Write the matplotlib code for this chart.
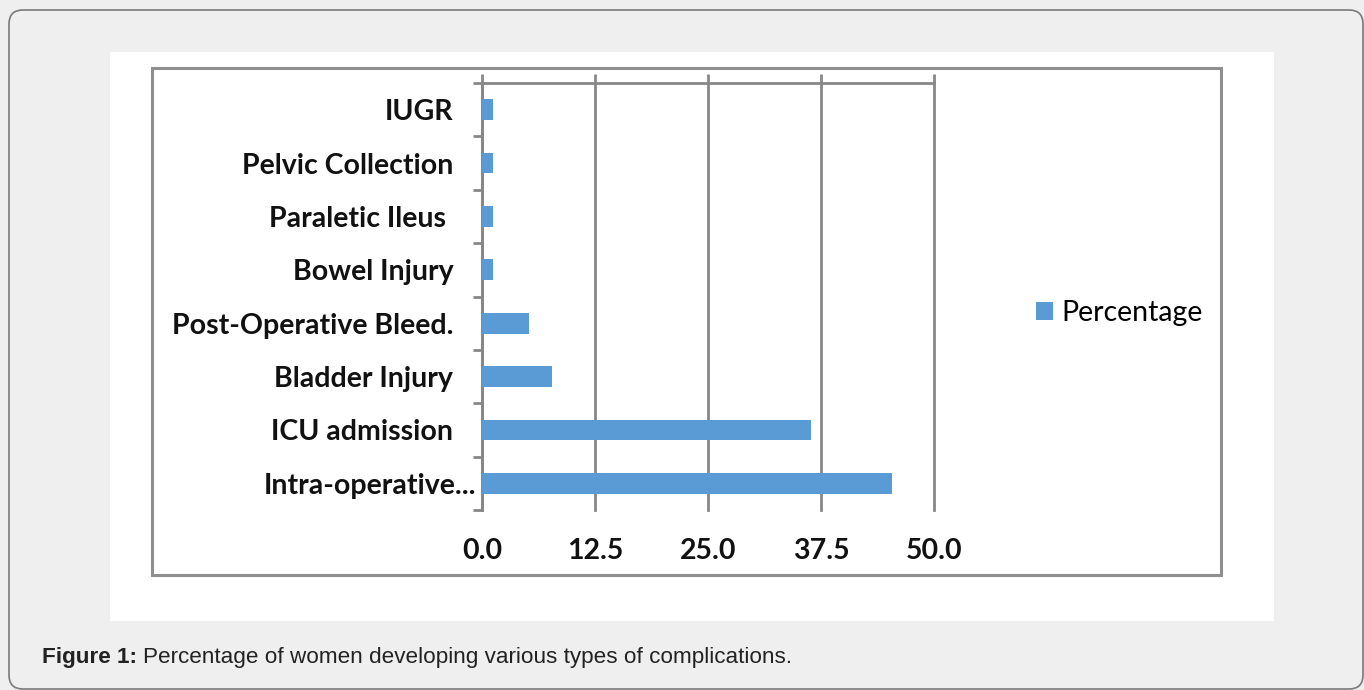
import matplotlib.pyplot as plt
from matplotlib.patches import FancyBboxPatch, Rectangle
from matplotlib.transforms import ScaledTranslation
from matplotlib.ticker import FixedLocator

# data, top to bottom as shown
categories = ["IUGR", "Pelvic Collection", "Paraletic Ileus ", "Bowel Injury",
              "Post-Operative Bleed.", "Bladder Injury", "ICU admission",
              "Intra-operative..."]
percentage = [1.2, 1.2, 1.2, 1.2, 5.2, 7.7, 36.4, 45.4]
xticks = [0.0, 12.5, 25.0, 37.5, 50.0]

W, H = 1364, 690
fig = plt.figure(figsize=(W / 100, H / 100), dpi=100)
fig.patch.set_facecolor("#efefef")


def px(x, y):
    # pixel coords (top-left origin) -> inches
    return x / 100, (H - y) / 100


# outer rounded frame
x0, y0 = px(9, 689)
fig.patches.append(FancyBboxPatch((x0, y0), (1363 - 9) / 100, (689 - 10) / 100,
                                  boxstyle="round,pad=0,rounding_size=0.14",
                                  transform=fig.dpi_scale_trans, facecolor="#efefef",
                                  edgecolor="#7a7a7a", linewidth=1.2, zorder=-3))
# white panel
x0, y0 = px(110, 621)
fig.patches.append(Rectangle((x0, y0), (1274 - 110) / 100, (621 - 52) / 100,
                             transform=fig.dpi_scale_trans, facecolor="white",
                             edgecolor="none", zorder=-2))
# chart border
x0, y0 = px(152, 575)
fig.patches.append(Rectangle((x0, y0), (1221 - 152) / 100, (575 - 68) / 100,
                             transform=fig.dpi_scale_trans, facecolor="none",
                             edgecolor="#8f8f8f", linewidth=2.2, zorder=-1))

gray = "#878787"
ax = fig.add_axes([482.3 / W, 1 - 510 / H, (934 - 482.3) / W, (510 - 83) / H])
ax.set_facecolor("none")

ypos = list(range(len(categories)))
ax.barh(ypos, percentage, height=0.39, color="#5b9bd5", label="Percentage", zorder=3)
ax.set_xlim(0, 50)
ax.set_ylim(len(categories) - 0.5, -0.5)

ax.set_xticks(xticks)
ax.set_xticklabels([f"{t:.1f}" for t in xticks])
ax.grid(axis="x", color=gray, linewidth=2.0, zorder=1)
for gl in ax.get_xgridlines():
    gl.set_clip_on(False)
ax.tick_params(axis="x", top=True, bottom=False, labeltop=False, labelbottom=True,
               direction="out", length=6.5, width=2.0, color=gray, pad=14)

ax.set_yticks(ypos)
ax.set_yticklabels(categories)
ax.yaxis.set_minor_locator(FixedLocator([i - 0.5 for i in range(len(categories) + 1)]))
ax.tick_params(axis="y", which="major", length=0, pad=21)
ax.tick_params(axis="y", which="minor", length=6.5, width=2.0, color=gray)

for lab in ax.get_xticklabels() + ax.get_yticklabels():
    lab.set_fontfamily("Lato")
    lab.set_fontweight("bold")
    lab.set_fontsize(20.5)
    lab.set_color("#111111")

# last label sits closer to the axis
last = ax.get_yticklabels()[-1]
last.set_transform(last.get_transform() + ScaledTranslation(0.23, 0, fig.dpi_scale_trans))

for s in ["right", "bottom"]:
    ax.spines[s].set_visible(False)
for s in ["left", "top"]:
    ax.spines[s].set_color(gray)
    ax.spines[s].set_linewidth(2.0)

fig.legend(loc="center left", bbox_to_anchor=(1022 / W, 1 - 313 / H), frameon=False,
           handlelength=0.6, handleheight=0.6, handletextpad=0.3, borderpad=0,
           prop={"family": "Lato", "size": 20.5})

# caption
t1 = fig.text(42 / W, 1 - 658 / H, "Figure 1:", fontfamily="Liberation Sans",
              fontweight="bold", fontsize=16.2, va="center", color="#222222")
fig.canvas.draw()
bb = t1.get_window_extent()
fig.text(bb.x1 / W + 6 / W, 1 - 658 / H,
         "Percentage of women developing various types of complications.",
         fontfamily="Liberation Sans", fontsize=16.2, va="center", color="#222222")

fig.savefig("out.png", dpi=100, facecolor=fig.get_facecolor())
